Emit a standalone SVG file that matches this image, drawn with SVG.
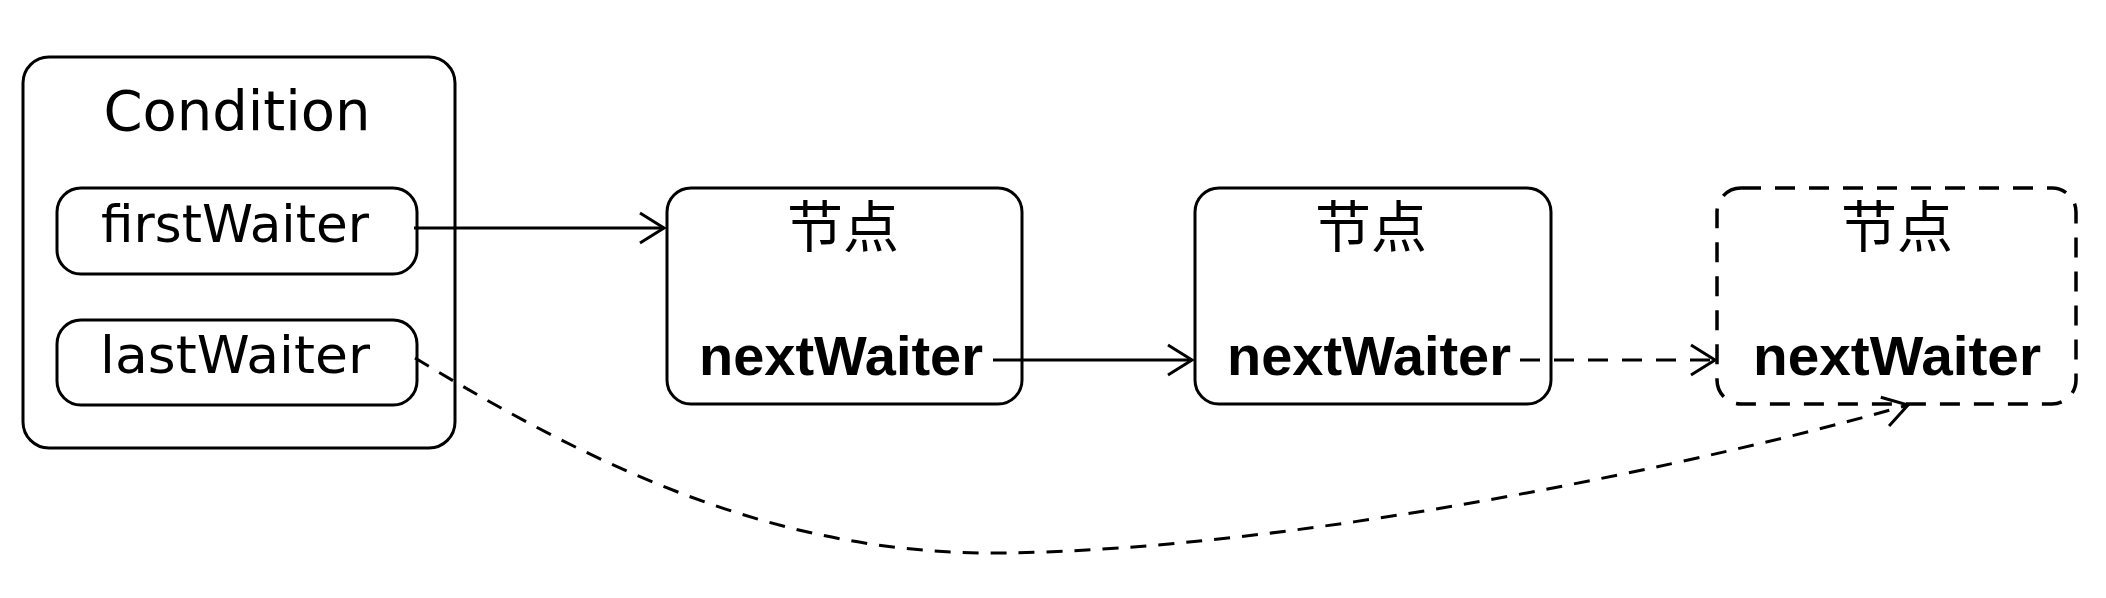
<svg xmlns="http://www.w3.org/2000/svg" width="2106" height="598" viewBox="0 0 2106 598">
  <style>
    .box { fill: #fff; stroke: #000; stroke-width: 3; }
    .dbox { fill: #fff; stroke: #000; stroke-width: 3.5; stroke-dasharray: 20 14; }
    .lbl { font-family: "DejaVu Sans", "Liberation Sans", sans-serif; font-size: 52px; fill: #000; text-anchor: middle; }
    .title { font-family: "DejaVu Sans", "Liberation Sans", sans-serif; font-size: 56px; fill: #000; text-anchor: middle; }
    .cjk { font-family: "Liberation Sans", "Noto Sans CJK SC", sans-serif; font-size: 56px; fill: #000; text-anchor: middle; }
    .bold { font-family: "Liberation Sans", Arial, sans-serif; font-size: 56px; font-weight: bold; fill: #000; text-anchor: middle; }
    .conn { fill: none; stroke: #000; stroke-width: 3; }
    .dash { stroke-dasharray: 20 14; }
    .cdash { stroke-dasharray: 16 12; }
  </style>
  <defs>
    <marker id="arrow" markerUnits="userSpaceOnUse" markerWidth="40" markerHeight="40" viewBox="-30 -20 40 40" refX="0" refY="0" orient="auto">
      <path d="M-24,-15 L0,0 L-24,15" fill="none" stroke="#000" stroke-width="3" stroke-dasharray="none"/>
    </marker>
  </defs>

  <g id="condition">
    <rect class="box" x="23" y="57" width="432" height="391" rx="26" ry="26"/>
    <text class="title" x="237" y="130">Condition</text>
  </g>
  <g id="firstWaiter">
    <rect class="box" x="57" y="188" width="360" height="86" rx="24" ry="24"/>
    <text class="lbl" x="235" y="242" textLength="268" lengthAdjust="spacingAndGlyphs">firstWaiter</text>
  </g>
  <g id="lastWaiter">
    <rect class="box" x="57" y="320" width="360" height="85" rx="24" ry="24"/>
    <text class="lbl" x="235" y="373" textLength="270" lengthAdjust="spacingAndGlyphs">lastWaiter</text>
  </g>
  <g id="node1">
    <rect class="box" x="667" y="188" width="355" height="216" rx="24" ry="24"/>
    <text class="cjk" x="843" y="247">节点</text>
    <text class="bold" x="841" y="375" textLength="284" lengthAdjust="spacingAndGlyphs">nextWaiter</text>
  </g>
  <g id="node2">
    <rect class="box" x="1195" y="188" width="356" height="216" rx="24" ry="24"/>
    <text class="cjk" x="1371" y="247">节点</text>
    <text class="bold" x="1369" y="375" textLength="284" lengthAdjust="spacingAndGlyphs">nextWaiter</text>
  </g>
  <g id="node3">
    <rect class="dbox" x="1717" y="188" width="359" height="216" rx="24" ry="24"/>
    <text class="cjk" x="1897" y="247">节点</text>
    <text class="bold" x="1897" y="375" textLength="288" lengthAdjust="spacingAndGlyphs">nextWaiter</text>
  </g>

  <g id="connectors">
    <path class="conn" d="M414,228 L664,228" marker-end="url(#arrow)"/>
    <path class="conn" d="M993,360 L1192,360" marker-end="url(#arrow)"/>
    <path class="conn dash" d="M1520,360 L1715,360" marker-end="url(#arrow)"/>
    <path class="conn cdash" d="M415,358 C600,470 780,555 1000,553 C1300,550 1710,462 1908,405" marker-end="url(#arrow)"/>
  </g>
</svg>
